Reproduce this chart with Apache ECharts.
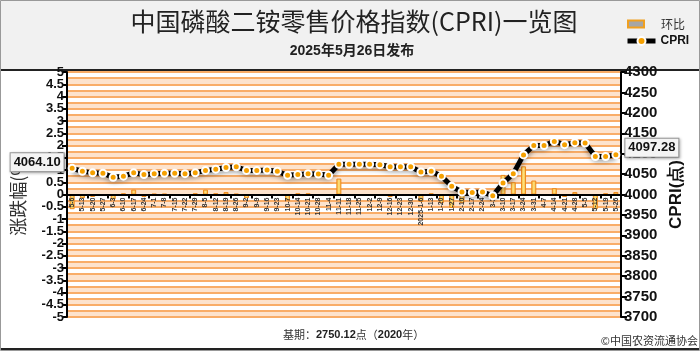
<!DOCTYPE html>
<html>
<head>
<meta charset="utf-8">
<script src="https://cdn.jsdelivr.net/npm/echarts@6/dist/echarts.min.js"></script>
<style>
html, body { margin: 0; padding: 0; background: #fff; }
#cpriChart { width: 700px; height: 351px; }
</style>
</head>
<body>
<div id="cpriChart"></div>
<script>
// 发布周
var dates = ['5-6', '5-13', '5-20', '5-27', '6-3', '6-10', '6-17', '6-24', '7-1', '7-8', '7-15', '7-22', '7-29',
    '8-5', '8-12', '8-19', '8-26', '9-2', '9-9', '9-16', '9-23', '10-7', '10-14', '10-21', '10-28',
    '11-4', '11-11', '11-18', '11-25', '12-2', '12-9', '12-16', '12-23', '12-30', '2025-1-6', '1-13',
    '1-20', '1-27', '2-10', '2-17', '2-24', '3-3', '3-10', '3-17', '3-24', '3-31', '4-7', '4-14',
    '4-21', '4-28', '5-5', '5-12', '5-19', '5-26']
// CPRI指数（右轴）
var cpri = [4064.10, 4057, 4053, 4052, 4042, 4045, 4053, 4049, 4051, 4052, 4052, 4051, 4053,
    4059, 4062, 4066, 4068, 4059, 4059, 4060, 4057, 4047, 4049, 4051, 4050,
    4047, 4074, 4074, 4074, 4074, 4073, 4068, 4068, 4068, 4055, 4057,
    4045, 4020, 4006, 4005, 4006, 3997, 4028, 4051, 4097, 4120, 4120, 4130,
    4122, 4127, 4126, 4093, 4093, 4097.28]
// 环比涨跌幅 %（左轴）
var change = [-0.6, -0.15, -0.1, -0.03, -0.2, 0.05, 0.2, -0.1, 0.03, 0.03, 0, -0.02, 0.05,
    0.2, 0.05, 0.1, 0.03, -0.15, 0, 0, -0.05, -0.25, 0.05, 0.05, -0.02,
    -0.05, 0.65, 0, 0, 0, -0.02, -0.1, 0, 0, -0.3, 0.05,
    -0.35, -0.55, -0.35, -0.03, 0.02, -0.1, 0.8, 0.5, 1.15, 0.57, 0, 0.26,
    -0.1, 0.1, -0.02, -0.6, 0.05, 0.1]

var myChart = echarts.init(document.getElementById('cpriChart'))

var gridTop = 72
var gridBottom = 34
var zeroOffset = -((351 - gridBottom - gridTop) / 2)   // x轴移到0线

var boxLabel = {
    show: true,
    fontSize: 13,
    fontWeight: 'bold',
    fontFamily: 'Arial',
    color: '#111',
    backgroundColor: '#f4f4f4',
    borderColor: '#999',
    borderWidth: 1,
    padding: [3, 3, 2, 3],
    shadowColor: 'rgba(0,0,0,0.3)',
    shadowBlur: 3,
    shadowOffsetX: 1,
    shadowOffsetY: 1,
    formatter: function (p) {
        return p.value.toFixed(2)
    }
}

var lineData = cpri.map(function (v, i) {
    if (i === 0) {
        return { value: v, label: Object.assign({}, boxLabel, { position: 'left', distance: 4, offset: [0, -6] }) }
    }
    if (i === cpri.length - 1) {
        return { value: v, label: Object.assign({}, boxLabel, { position: 'right', distance: 5, offset: [0, -7] }) }
    }
    return v
})

var axisBlack = { color: '#000', width: 2 }
var leftLabel = { fontSize: 13, fontWeight: 'bold', fontFamily: 'Arial', color: '#111', margin: 3 }

var option = {
    backgroundColor: '#fff',
    animation: false,
    legend: [{
        left: 622,
        top: 13,
        itemWidth: 16,
        itemHeight: 7,
        selectedMode: false,
        textStyle: { fontSize: 12, color: '#333', fontFamily: 'Noto Sans CJK SC', padding: [0, 0, 0, 12] },
        data: [{ name: '环比', icon: 'rect', itemStyle: { color: '#a6a6a6', borderColor: '#f0a020', borderWidth: 2 } }]
    }, {
        left: 620,
        top: 30,
        itemWidth: 28,
        itemHeight: 10,
        selectedMode: false,
        textStyle: { fontSize: 12, fontWeight: 'bold', color: '#111', fontFamily: 'Arial' },
        data: [{ name: 'CPRI', lineStyle: { color: '#000', width: 5 } }]
    }],
    grid: {
        left: 67,
        right: 79,
        top: gridTop,
        bottom: gridBottom
    },
    xAxis: {
        type: 'category',
        data: dates,
        boundaryGap: true,
        position: 'bottom',
        offset: zeroOffset,
        axisLine: { onZero: false, lineStyle: axisBlack },
        axisTick: { show: true, interval: 1, length: 4, lineStyle: axisBlack },
        axisLabel: {
            interval: 0,
            rotate: 90,
            fontSize: 7,
            fontWeight: 'bold',
            fontFamily: 'Arial',
            color: '#333',
            margin: 3
        },
        z: 4
    },
    yAxis: [{
        // 左轴 整数刻度
        type: 'value',
        position: 'left',
        min: -5,
        max: 5,
        interval: 1,
        name: '涨跌幅(%)',
        nameLocation: 'middle',
        nameRotate: 90,
        nameGap: 40,
        nameTextStyle: { fontSize: 18, color: '#333', fontFamily: 'Noto Sans CJK SC' },
        axisLine: { show: true, lineStyle: axisBlack },
        axisTick: { show: true, length: 5, lineStyle: axisBlack },
        axisLabel: Object.assign({ showMinLabel: true, showMaxLabel: true }, leftLabel),
        splitLine: { show: false }
    }, {
        type: 'value',
        position: 'right',
        min: 3700,
        max: 4300,
        interval: 50,
        name: 'CPRI(点)',
        nameLocation: 'middle',
        nameRotate: 90,
        nameGap: 46,
        nameTextStyle: { fontSize: 17, fontWeight: 'bold', color: '#111', fontFamily: 'Arial' },
        axisLine: { show: true, lineStyle: axisBlack },
        axisTick: { show: true, length: 6, lineStyle: axisBlack },
        axisLabel: {
            fontSize: 15, fontWeight: 'bold', fontFamily: 'Arial', color: '#111', margin: 3,
            showMinLabel: true, showMaxLabel: true,
            formatter: function (v) { return String(v) }
        },
        splitLine: { show: false }
    }, {
        // 背景条纹
        type: 'value',
        position: 'left',
        min: 0,
        max: 40,
        interval: 1,
        axisLine: { show: false },
        axisTick: { show: false },
        axisLabel: { show: false },
        splitLine: { show: true, lineStyle: { color: '#f9ad68', width: 2 } },
        splitArea: { show: true, areaStyle: { color: ['#fde3cd', '#ffffff'] } }
    }, {
        // 左轴 半格刻度
        type: 'value',
        position: 'left',
        min: -5,
        max: 5,
        interval: 0.5,
        axisLine: { show: false },
        axisTick: { show: true, length: 5, lineStyle: axisBlack },
        axisLabel: Object.assign({
            showMinLabel: false,
            showMaxLabel: false,
            formatter: function (v) { return v % 1 !== 0 ? String(v) : '' }
        }, leftLabel),
        splitLine: { show: false }
    }],
    series: [{
        name: '环比',
        type: 'bar',
        yAxisIndex: 0,
        barWidth: 5,
        itemStyle: {
            color: new echarts.graphic.LinearGradient(0, 0, 1, 0, [
                { offset: 0, color: '#f2b53a' },
                { offset: 0.5, color: '#ffe07a' },
                { offset: 1, color: '#f2b53a' }
            ]),
            borderColor: '#ee8a1e',
            borderWidth: 1
        },
        data: change,
        z: 2
    }, {
        name: 'CPRI',
        type: 'line',
        yAxisIndex: 1,
        symbol: 'circle',
        symbolSize: 7,
        showAllSymbol: true,
        lineStyle: {
            color: '#000',
            width: 5,
            shadowColor: 'rgba(0,0,0,0.35)',
            shadowBlur: 4,
            shadowOffsetY: 3
        },
        itemStyle: { color: '#f5a000', borderColor: '#fff', borderWidth: 2 },
        data: lineData,
        z: 5
    }],
    graphic: [{
        type: 'rect',
        shape: { x: 0, y: 0, width: 700, height: 69 },
        style: { fill: '#f1f1f1' },
        z: -10
    }, {
        type: 'line',
        shape: { x1: 0, y1: 70, x2: 700, y2: 70 },
        style: { stroke: '#222', lineWidth: 2 }
    }, {
        type: 'line',
        shape: { x1: 0, y1: 349, x2: 700, y2: 349 },
        style: { stroke: '#222', lineWidth: 2 }
    }, {
        type: 'rect',
        shape: { x: 0.5, y: 0.5, width: 699, height: 350 },
        style: { fill: 'none', stroke: '#999', lineWidth: 1 }
    }, {
        type: 'text',
        x: 354,
        y: 9,
        style: {
            text: '中国磷酸二铵零售价格指数(CPRI)一览图',
            font: '25px "Noto Sans CJK SC"',
            fill: '#222',
            textAlign: 'center'
        }
    }, {
        type: 'text',
        x: 352,
        y: 44,
        style: {
            text: '2025年5月26日发布',
            font: 'bold 14px Arial, "Noto Sans CJK SC"',
            fill: '#222',
            textAlign: 'center'
        }
    }, {
        type: 'text',
        x: 283,
        y: 329,
        style: {
            text: '{n|基期：}{b|2750.12}{n|点（}{b|2020}{n|年）}',
            rich: {
                n: { fontSize: 11, fontFamily: 'Noto Sans CJK SC', fill: '#333' },
                b: { fontSize: 11, fontWeight: 'bold', fontFamily: 'Arial', fill: '#222' }
            }
        }
    }, {
        type: 'text',
        x: 698,
        y: 335,
        style: {
            text: '©中国农资流通协会',
            font: '11px "Noto Sans CJK SC"',
            fill: '#333',
            textAlign: 'right'
        }
    }]
}

myChart.setOption(option)

window.addEventListener('resize', function () {
    myChart.resize()
})
</script>
</body>
</html>
